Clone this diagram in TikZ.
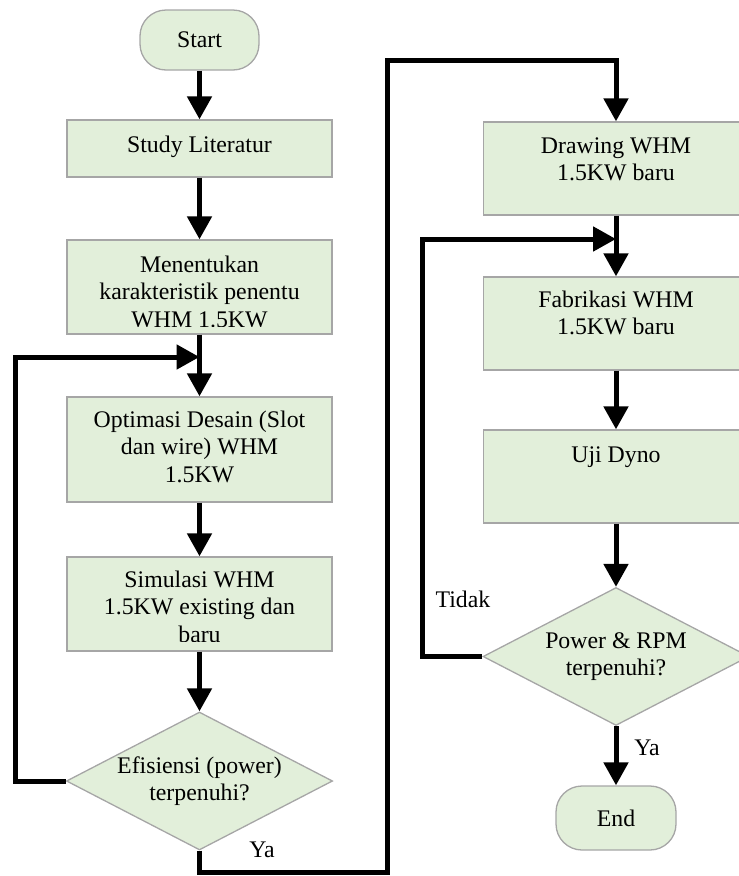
\documentclass[tikz,border=0pt]{standalone}
\usepackage{fontspec}
\setmainfont{Liberation Serif}
\usetikzlibrary{arrows.meta,positioning,shapes.geometric}
\definecolor{Leaf}{HTML}{E2EFDA}
\definecolor{Edge}{HTML}{A6A6A6}
\tikzset{
  terminal/.style={
    rounded corners=26pt, draw=Edge, line width=1.3pt, fill=Leaf,
    minimum width=119pt, minimum height=60pt, inner sep=0pt
  },
  process/.style={
    draw=Edge, line width=1.3pt, fill=Leaf,
    minimum width=265pt, inner sep=0pt
  },
  decision/.style={
    diamond, aspect=2.06, draw=Edge, line width=1.3pt, fill=Leaf,
    minimum width=266pt, minimum height=138pt, inner sep=0pt, align=center
  },
  caption/.style={align=center, anchor=base, inner sep=0pt},
  flow/.style={-{Triangle[length=23pt,width=24pt]}, line width=5pt}
}
\begin{document}
\begin{tikzpicture}[x=1pt,y=-1pt,font=\fontsize{23.8}{27.5}\selectfont]
        \clip (0,0) rectangle (739,876);
        % left column
        \node[terminal] (start) at (199.5,40) {Start};
        \node[process,minimum height=57pt] (study) at (199.5,148.5) {};
        \node[process,minimum height=94pt] (menent) at (199.5,287) {};
        \node[process,minimum height=105pt] (optim) at (199.5,449.5) {};
        \node[process,minimum height=94pt] (simul) at (199.5,604) {};
        \node[decision] (effic) at (199.5,781) {Efisiensi (power)\\terpenuhi?};
        \node[caption] (studyT) at ([yshift=-33pt]study.north) {Study Literatur};
        \begin{scope}
          \clip (menent.north west) rectangle ([yshift=8pt]menent.south east);
          \node[caption] (menentT) at ([yshift=-88pt]menent.north) {Menentukan\\karakteristik penentu\\WHM 1.5KW};
        \end{scope}
        \node[caption] (optimT) at ([yshift=-86pt]optim.north) {Optimasi Desain (Slot\\dan wire) WHM\\1.5KW};
        \begin{scope}
          \clip (simul.north west) rectangle ([yshift=10pt]simul.south east);
          \node[caption] (simulT) at ([yshift=-86pt]simul.north) {Simulasi WHM\\1.5KW existing dan\\baru};
        \end{scope}
        % right column
        \node[process,minimum height=93pt] (drawing) at (616,168.5) {};
        \node[process,minimum height=93pt] (fabri) at (616,323.5) {};
        \node[process,minimum height=93pt] (uji) at (616,476.5) {};
        \node[decision] (power) at (616,656.5) {Power \& RPM\\terpenuhi?};
        \node[terminal,minimum width=120pt,minimum height=64pt] (finish) at (616,818) {End};
        \node[caption] (drawingT) at ([yshift=-59.5pt]drawing.north) {Drawing WHM\\1.5KW baru};
        \node[caption] (fabriT) at ([yshift=-58.5pt]fabri.north) {Fabrikasi WHM\\1.5KW baru};
        \node[caption] (ujiT) at ([yshift=-33pt]uji.north) {Uji Dyno};
        % connectors
        \draw[flow] (start) -- (study);
        \draw[flow] (study) -- (menent);
        \draw[flow] (menent) -- (optim);
        \draw[flow] (optim) -- (simul);
        \draw[flow] (simul) -- (effic);
        \coordinate (loopA) at (15,357);
        \draw[flow] (effic.west) -| (loopA) -- (loopA -| optim.north);
        \coordinate (yaLow) at (387,872);
        \coordinate (yaTop) at (387,60);
        \draw[flow] (effic.south) |- (yaLow) -- (yaTop) -| (drawing.north);
        \draw[flow] (drawing) -- (fabri);
        \draw[flow] (fabri) -- (uji);
        \draw[flow] (uji) -- (power);
        \draw[flow] (power) -- (finish);
        \coordinate (loopB) at (422,239);
        \draw[flow] (power.west) -| (loopB) -- (loopB -| fabri.north);
        % labels
        \node (yaA) at (262,850) {Ya};
        \node (tidak) at (463,599) {Tidak};
        \node (yaB) at (647,748) {Ya};
      \end{tikzpicture}
\end{document}
